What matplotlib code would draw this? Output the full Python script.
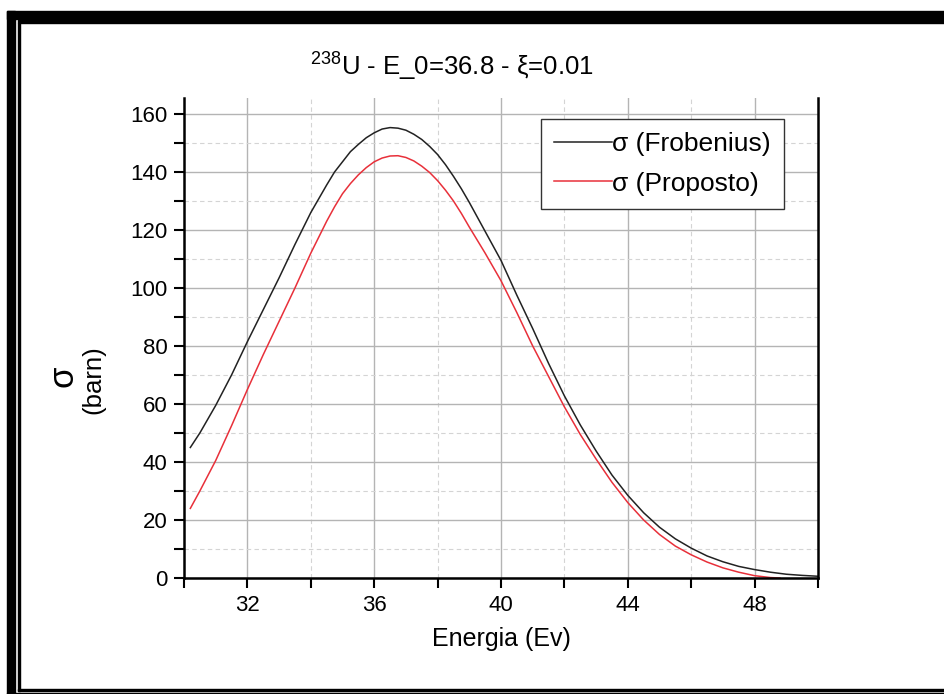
import matplotlib
matplotlib.use("Agg")
import matplotlib.pyplot as plt
from matplotlib.patches import Rectangle
from matplotlib.ticker import MultipleLocator

plt.rcParams['font.family'] = ['Liberation Sans', 'DejaVu Sans']
plt.rcParams['mathtext.fontset'] = 'custom'
plt.rcParams['mathtext.rm'] = 'Liberation Sans'
plt.rcParams['mathtext.it'] = 'Liberation Sans'

# energies (eV) and cross sections (barn)
energia_frob = [30.2, 30.5, 31, 31.5, 32, 32.5, 33, 33.5, 34, 34.5, 34.75, 35, 35.25, 35.5,
                35.75, 36, 36.25, 36.5, 36.75, 37, 37.25, 37.5, 37.75, 38, 38.25, 38.5,
                38.75, 39, 39.5, 40, 40.5, 41, 41.5, 42, 42.5, 43, 43.5, 44, 44.5, 45,
                45.5, 46, 46.5, 47, 47.5, 48, 48.5, 49, 49.5, 50]
sigma_frob = [45, 50, 59.5, 70, 81.5, 92.5, 103.5, 115, 126, 135.5, 140, 143.5, 147, 149.5,
              151.8, 153.5, 154.8, 155.3, 155.1, 154.4, 153, 151.2, 148.8, 146, 142.5, 138.5,
              134.2, 129.5, 119.5, 109.5, 97.5, 86, 74, 62.8, 52.8, 43.8, 35.5, 28.5, 22.5,
              17.5, 13.5, 10.3, 7.6, 5.6, 4.0, 2.9, 2.0, 1.3, 0.9, 0.6]

energia_prop = [30.2, 30.5, 31, 31.5, 32, 32.5, 33, 33.5, 34, 34.5, 34.75, 35, 35.25, 35.5,
                35.75, 36, 36.25, 36.5, 36.75, 37, 37.25, 37.5, 37.75, 38, 38.25, 38.5,
                38.75, 39, 39.5, 40, 40.5, 41, 41.5, 42, 42.5, 43, 43.5, 44, 44.5, 45,
                45.5, 46, 46.5, 47, 47.5, 48, 48.5, 48.8]
sigma_prop = [24, 30, 40.5, 52.5, 65, 77, 88.5, 100, 112, 123, 128, 132.5, 136, 139,
              141.5, 143.5, 144.8, 145.5, 145.6, 145, 143.8, 142, 139.8, 137, 133.7, 130,
              125.7, 121, 112, 102.5, 91.5, 80, 69.5, 59, 49.5, 41, 33, 26, 20,
              15, 11, 8, 5.5, 3.5, 2, 0.8, 0.15, 0]

W, H = 945, 694
fig = plt.figure(figsize=(W / 100, H / 100), dpi=100)
ax = fig.add_axes([184 / W, (H - 578) / H, 634 / W, 480 / H])

ax.plot(energia_frob, sigma_frob, color='#222222', lw=1.1, label='σ (Frobenius)')
ax.plot(energia_prop, sigma_prop, color='#e8303a', lw=1.1, label='σ (Proposto)')

ax.set_xlim(30, 50)
ax.set_ylim(0, 165.5)
ax.xaxis.set_major_locator(MultipleLocator(4))
ax.xaxis.set_minor_locator(MultipleLocator(2))
ax.yaxis.set_major_locator(MultipleLocator(20))
ax.yaxis.set_minor_locator(MultipleLocator(10))
ax.set_xticks([32, 36, 40, 44, 48])

ax.grid(which='major', color='#b4b4b4', lw=1.0, ls='-')
ax.grid(which='minor', color='#d4d4d4', lw=0.8, ls=(0, (4, 3)))
ax.set_axisbelow(True)

for s in ['left', 'bottom', 'right']:
    ax.spines[s].set_linewidth(1.8)
    ax.spines[s].set_color('black')
ax.spines['top'].set_visible(False)
ax.tick_params(which='both', direction='out', length=7, width=1.5, labelsize=16, pad=5)
ax.tick_params(axis='y', which='both', right=False)

ax.set_xlabel('Energia (Ev)', fontsize=18, labelpad=8)

fig.text(63 / W, 1 - 376 / H, 'σ', rotation=90, fontsize=25, ha='center', va='center')
fig.text(93 / W, 1 - 380 / H, '(barn)', rotation=90, fontsize=18.5, ha='center', va='center')

fig.text(452 / W, 1 - 67 / H, '$^{238}$U - E_0=36.8 - ξ=0.01', fontsize=18.5,
         ha='center', va='center')

leg = ax.legend(loc='upper left', bbox_to_anchor=((541 - 184) / 634, (578 - 119) / 480),
                fontsize=19, frameon=True, fancybox=False, handlelength=2.2,
                handletextpad=0.0, borderpad=0.5, labelspacing=0.58, borderaxespad=0)
leg.get_frame().set_edgecolor('#333333')
leg.get_frame().set_linewidth(1.0)
leg.get_frame().set_alpha(1)

# page frame
fig.patches.append(Rectangle((7 / W, 0), 8 / W, 1 - 11 / H, transform=fig.transFigure,
                             color='black', zorder=10))
fig.patches.append(Rectangle((7 / W, 1 - 19 / H), 1, 8 / H, transform=fig.transFigure,
                             color='black', zorder=10))
fig.patches.append(Rectangle((18 / W, 1 - 22.5 / H), 1, 2 / H, transform=fig.transFigure,
                             color='black', zorder=10))
fig.patches.append(Rectangle((18 / W, 3 / H), 2 / W, 1 - 25.5 / H, transform=fig.transFigure,
                             color='black', zorder=10))
fig.patches.append(Rectangle((18 / W, 3 / H), 1, 2 / H, transform=fig.transFigure,
                             color='black', zorder=10))
fig.patches.append(Rectangle((7 / W, 0), 1, 1 / H, transform=fig.transFigure,
                             color='black', zorder=10))

fig.savefig('out.png', dpi=100)
